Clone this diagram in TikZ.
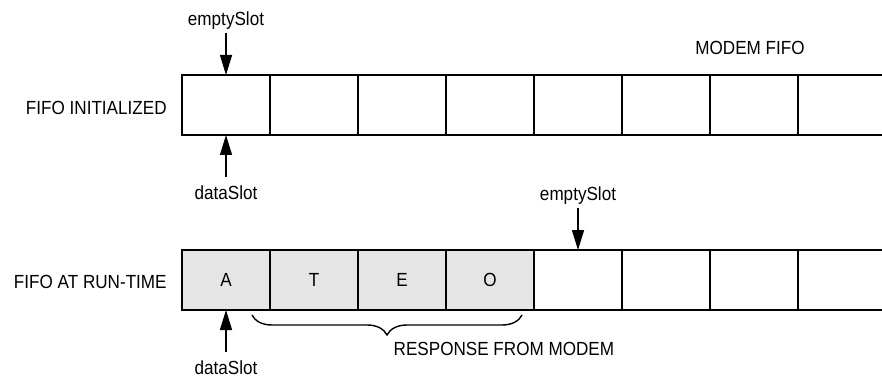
\documentclass[tikz,border=0pt]{standalone}
\usepackage{fontspec}
\setmainfont[FakeStretch=0.9]{Liberation Sans}
\usetikzlibrary{arrows.meta, positioning, decorations.pathreplacing}

\begin{document}
\begin{tikzpicture}[
x=0.5pt, y=-0.5pt,
node distance=0pt,
font=\fontsize{9.5}{11.5}\selectfont,
slot/.style={rectangle, draw, line width=0.7pt, minimum width=44pt, minimum height=30pt, inner sep=0pt, outer sep=0pt},
used/.style={slot, fill=black!10},
tag/.style={inner sep=1.5pt},
pointer/.style={-{Triangle[length=10pt, width=6pt]}, line width=0.7pt},
brace/.style={decorate, decoration={brace, mirror, amplitude=10pt}, line width=0.7pt}
]

\useasboundingbox (0,0) rectangle (882,379);

% empty fifo
\node[slot] (a0) at (226,105) {};
\node[slot, right=of a0] (a1) {};
\node[slot, right=of a1] (a2) {};
\node[slot, right=of a2] (a3) {};
\node[slot, right=of a3] (a4) {};
\node[slot, right=of a4] (a5) {};
\node[slot, right=of a5] (a6) {};
\node[slot, right=of a6] (a7) {};

% fifo holding a response
\node[used] (b0) at (226,280) {A};
\node[used, right=of b0] (b1) {T};
\node[used, right=of b1] (b2) {E};
\node[used, right=of b2] (b3) {O};
\node[slot, right=of b3] (b4) {};
\node[slot, right=of b4] (b5) {};
\node[slot, right=of b5] (b6) {};
\node[slot, right=of b6] (b7) {};

\node[tag, left=6pt of a0, yshift=-1.5pt] (initlabel) {FIFO INITIALIZED};
\node[tag, left=6pt of b0, yshift=-1pt] (runlabel) {FIFO AT RUN-TIME};
\node[tag, above=8.5pt of a6, xshift=-2pt] (title) {MODEM FIFO};

\node[tag, above=21pt of a0] (empty1) {emptySlot};
\node[tag, outer ysep=3pt, below=21pt of a0] (data1) {dataSlot};
\node[tag, above=21pt of b4] (empty2) {emptySlot};
\node[tag, outer ysep=3pt, below=21pt of b0] (data2) {dataSlot};

\draw[pointer] (empty1) -- (a0);
\draw[pointer] (data1) -- (a0);
\draw[pointer] (empty2) -- (b4);
\draw[pointer] (data2) -- (b0);

\coordinate (bl) at ([shift={(-18,5)}]b1.south west);
\coordinate (br) at ([shift={(-12,5)}]b3.south east);
\draw[brace] (bl) -- node[tag, midway, anchor=north west, xshift=1.5pt, yshift=-12pt] (response) {RESPONSE FROM MODEM} (br);

\end{tikzpicture}
\end{document}
